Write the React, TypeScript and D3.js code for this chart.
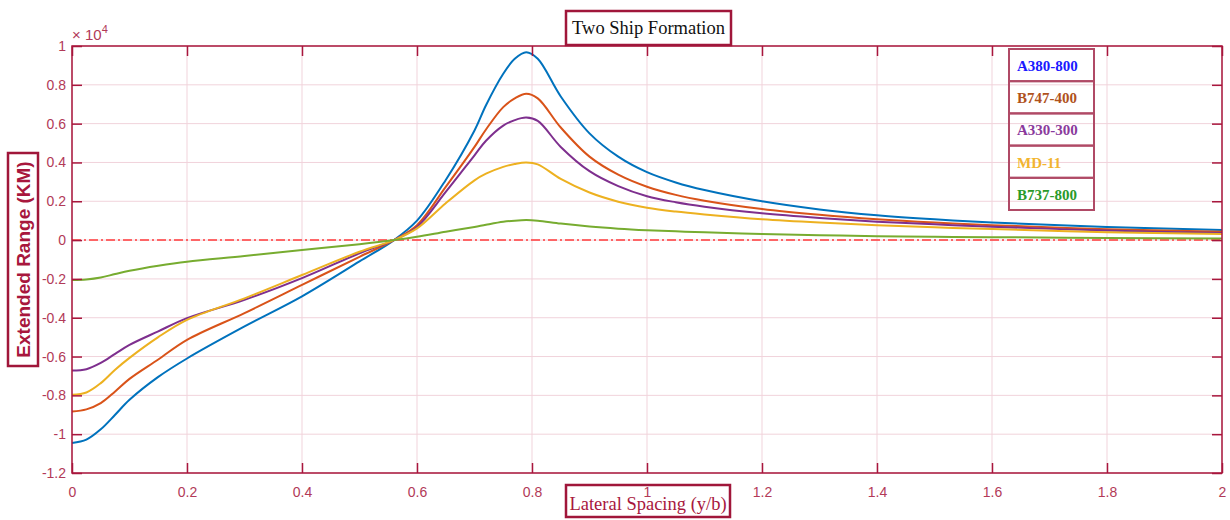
import React, { useEffect, useRef } from 'react';
import * as d3 from 'd3';

// lateral spacing samples (y/b)
const spacing = [0, 0.025, 0.05, 0.075, 0.1, 0.15, 0.2, 0.3, 0.4, 0.5, 0.56, 0.6, 0.65, 0.7, 0.72, 0.75, 0.77, 0.79, 0.81, 0.85, 0.9, 0.95, 1.0, 1.05, 1.1, 1.2, 1.3, 1.4, 1.5, 1.6, 1.8, 2.0];

// extended range, x10^4 km
const a380 = [-1.045, -1.028, -0.975, -0.9, -0.823, -0.705, -0.61, -0.445, -0.29, -0.11, 0, 0.1, 0.31, 0.565, 0.695, 0.857, 0.934, 0.968, 0.934, 0.74, 0.55, 0.43, 0.35, 0.297, 0.258, 0.2, 0.158, 0.128, 0.107, 0.091, 0.068, 0.052];
const b747 = [-0.883, -0.872, -0.84, -0.78, -0.715, -0.615, -0.514, -0.376, -0.231, -0.086, 0, 0.077, 0.274, 0.48, 0.57, 0.685, 0.73, 0.754, 0.73, 0.58, 0.43, 0.337, 0.275, 0.233, 0.203, 0.16, 0.13, 0.107, 0.09, 0.077, 0.056, 0.043];
const a330 = [-0.672, -0.665, -0.633, -0.586, -0.54, -0.47, -0.402, -0.308, -0.196, -0.068, 0, 0.068, 0.248, 0.437, 0.512, 0.59, 0.618, 0.631, 0.614, 0.48, 0.355, 0.278, 0.226, 0.195, 0.172, 0.138, 0.114, 0.095, 0.081, 0.069, 0.049, 0.037];
const md11 = [-0.797, -0.785, -0.737, -0.668, -0.607, -0.5, -0.411, -0.3, -0.18, -0.06, 0, 0.06, 0.19, 0.308, 0.342, 0.377, 0.392, 0.4, 0.39, 0.315, 0.245, 0.198, 0.167, 0.147, 0.132, 0.107, 0.09, 0.077, 0.066, 0.057, 0.041, 0.031];
const b737 = [-0.206, -0.203, -0.193, -0.175, -0.158, -0.132, -0.111, -0.082, -0.051, -0.021, 0, 0.017, 0.043, 0.068, 0.079, 0.094, 0.1, 0.103, 0.1, 0.085, 0.07, 0.059, 0.051, 0.045, 0.04, 0.031, 0.025, 0.02, 0.017, 0.015, 0.011, 0.008];

const seriesNames = ['A380-800', 'B747-400', 'A330-300', 'MD-11', 'B737-800'];
const seriesValues = [a380, b747, a330, md11, b737];
const lineColors = ['#0072BD', '#D95319', '#7E2F8E', '#EDB120', '#77AC30'];
const legendColors = ['#1a1aff', '#b0521c', '#8a3a9c', '#f2b530', '#2a9a2a'];

const xTicks = [0, 0.2, 0.4, 0.6, 0.8, 1, 1.2, 1.4, 1.6, 1.8, 2];
const yTicks = [-1.2, -1, -0.8, -0.6, -0.4, -0.2, 0, 0.2, 0.4, 0.6, 0.8, 1];

const W = 1230;
const H = 520;
const axisColor = '#a8173d';
const labelColor = '#b23a58';
const gridColor = '#f1d3db';
const sans = '"Liberation Sans", Arial, sans-serif';
const serif = '"Liberation Serif", "Times New Roman", serif';

const App = () => {
  const ref = useRef<SVGSVGElement>(null);

  useEffect(() => {
    const svg = d3.select(ref.current);
    svg.selectAll('*').remove();

    const left = 72, right = 1222, top = 46, bottom = 473;
    const x = d3.scaleLinear().domain([0, 2]).range([left, right]);
    const y = d3.scaleLinear().domain([-1.2, 1]).range([bottom, top]);
    const fmt = (d: any) => String(+(+d).toFixed(1));

    // grid
    const grid = svg.append('g');
    grid.selectAll('line.gx').data(xTicks).join('line')
      .attr('x1', d => x(d)).attr('x2', d => x(d)).attr('y1', top).attr('y2', bottom)
      .attr('stroke', gridColor).attr('stroke-width', 1);
    grid.selectAll('line.gy').data(yTicks).join('line')
      .attr('class', 'gy')
      .attr('x1', left).attr('x2', right).attr('y1', d => y(d)).attr('y2', d => y(d))
      .attr('stroke', gridColor).attr('stroke-width', 1);

    // zero reference line
    svg.append('line')
      .attr('x1', left).attr('x2', right).attr('y1', y(0)).attr('y2', y(0))
      .attr('stroke', '#ff3b3b').attr('stroke-width', 1.5)
      .attr('stroke-dasharray', '9,3,2,3');

    // curves
    const line = d3.line<number>()
      .x((_, i) => x(spacing[i]))
      .y(d => y(d))
      .curve(d3.curveCatmullRom.alpha(0.5));
    seriesValues.forEach((vals, i) => {
      svg.append('path')
        .attr('d', line(vals))
        .attr('fill', 'none')
        .attr('stroke', lineColors[i])
        .attr('stroke-width', 2);
    });

    // y label box
    svg.append('rect').attr('x', 8).attr('y', 153).attr('width', 30).attr('height', 213)
      .attr('fill', 'none').attr('stroke', '#a0163a').attr('stroke-width', 2.5);
    svg.append('text').attr('transform', 'translate(30,259.5) rotate(-90)').attr('text-anchor', 'middle')
      .style('font-family', sans).style('font-size', '19px').style('font-weight', 'bold').attr('fill', axisColor)
      .text('Extended Range (KM)');

    // axes
    const styleAxis = (g: any) => {
      g.select('.domain').remove();
      g.selectAll('.tick line').attr('stroke', axisColor).attr('stroke-width', 1.5);
      g.selectAll('.tick text').attr('fill', labelColor).style('font-family', sans).style('font-size', '14px');
    };
    svg.append('g').attr('transform', `translate(0,${bottom})`)
      .call(d3.axisBottom(x).tickValues(xTicks).tickFormat(fmt).tickSizeInner(-10).tickSizeOuter(0).tickPadding(14))
      .call(styleAxis);
    svg.append('g').attr('transform', `translate(0,${top})`)
      .call(d3.axisTop(x).tickValues(xTicks).tickFormat(() => '').tickSizeInner(-10).tickSizeOuter(0))
      .call(styleAxis);
    svg.append('g').attr('transform', `translate(${left},0)`)
      .call(d3.axisLeft(y).tickValues(yTicks).tickFormat(fmt).tickSizeInner(-10).tickSizeOuter(0).tickPadding(6))
      .call(styleAxis);
    svg.append('g').attr('transform', `translate(${right},0)`)
      .call(d3.axisRight(y).tickValues(yTicks).tickFormat(() => '').tickSizeInner(-10).tickSizeOuter(0))
      .call(styleAxis);

    // frame
    svg.append('rect')
      .attr('x', left).attr('y', top).attr('width', right - left).attr('height', bottom - top)
      .attr('fill', 'none').attr('stroke', axisColor).attr('stroke-width', 1.5);

    // exponent
    const ex = svg.append('text').attr('x', left).attr('y', 40)
      .attr('fill', labelColor).style('font-family', sans).style('font-size', '15px');
    ex.append('tspan').text('\u00d7 10');
    ex.append('tspan').attr('dy', -7).style('font-size', '11px').text('4');

    // title box
    svg.append('rect').attr('x', 566).attr('y', 11).attr('width', 165).attr('height', 34)
      .attr('fill', '#fff').attr('stroke', '#a0163a').attr('stroke-width', 2.5);
    svg.append('text').attr('x', 648.5).attr('y', 34).attr('text-anchor', 'middle')
      .style('font-family', serif).style('font-size', '18.5px').attr('fill', '#111')
      .text('Two Ship Formation');

    // x label box
    svg.append('rect').attr('x', 566).attr('y', 485).attr('width', 164).attr('height', 32)
      .attr('fill', 'none').attr('stroke', '#a0163a').attr('stroke-width', 2.5);
    svg.append('text').attr('x', 648).attr('y', 510).attr('text-anchor', 'middle')
      .style('font-family', serif).style('font-size', '18.5px').attr('fill', axisColor)
      .text('Lateral Spacing (y/b)');

    // legend
    const lx = 1009, ly = 49, rowH = 32.2, lw = 85;
    const leg = svg.append('g');
    seriesNames.forEach((name, i) => {
      leg.append('rect').attr('x', lx).attr('y', ly + i * rowH).attr('width', lw).attr('height', rowH)
        .attr('fill', 'none').attr('stroke', '#b04a66').attr('stroke-width', 2);
      leg.append('text').attr('x', lx + 8).attr('y', ly + i * rowH + 22)
        .style('font-family', serif).style('font-size', '15px').style('font-weight', 'bold')
        .attr('fill', legendColors[i]).text(name);
    });
  }, []);

  return (
    <svg ref={ref} width={W} height={H}
      style={{ position: 'absolute', left: 0, top: 0, background: '#fff' }} />
  );
};

export default App;
